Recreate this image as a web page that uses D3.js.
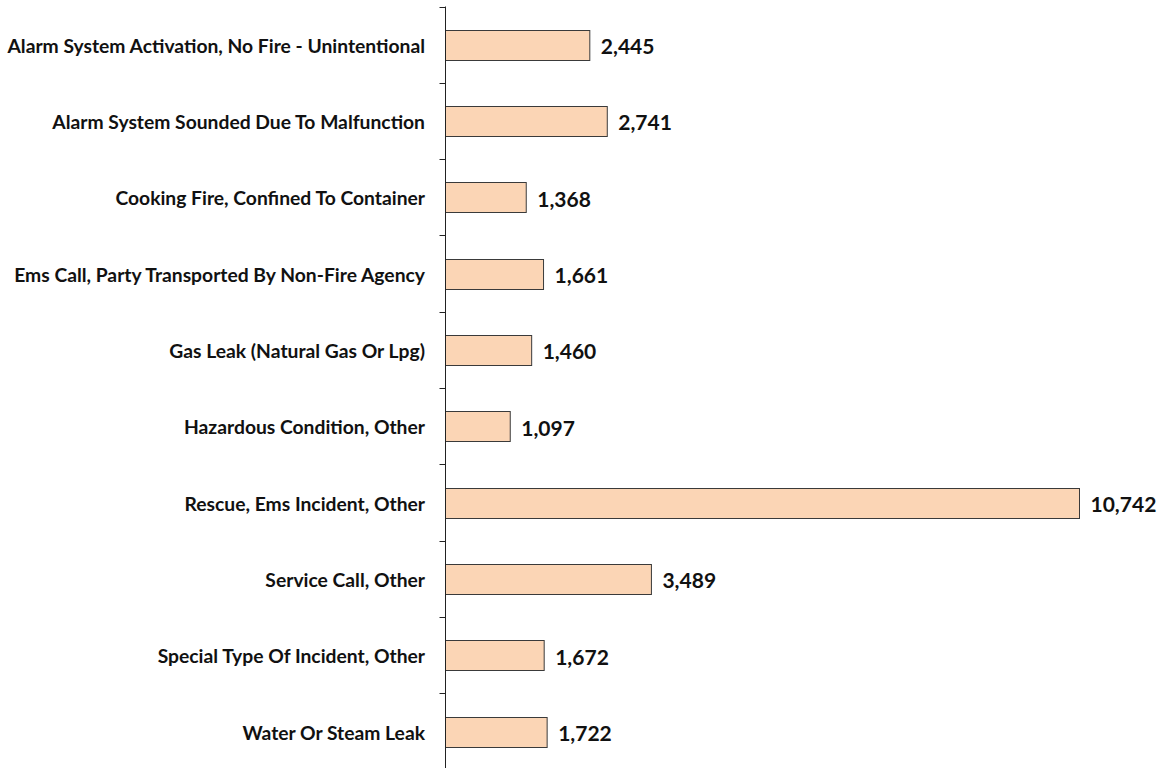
<!DOCTYPE html>
<html>
<head>
<meta charset="utf-8">
<script src="https://cdn.jsdelivr.net/npm/d3@7"></script>
<style>
  body { margin: 0; background: #fff; }
  svg { display: block; }
  .cat { font-family: Lato, "Open Sans", sans-serif; font-weight: bold; font-size: 19.3px; fill: #111; }
  .val { font-family: Lato, "Open Sans", sans-serif; font-weight: bold; font-size: 21px; fill: #111; }
</style>
</head>
<body>
<svg id="chart" width="1162" height="768"></svg>
<script>
"use strict";

// Incident types and their counts, top to bottom
var categories = [
    "Alarm System Activation, No Fire - Unintentional",
    "Alarm System Sounded Due To Malfunction",
    "Cooking Fire, Confined To Container",
    "Ems Call, Party Transported By Non-Fire Agency",
    "Gas Leak (Natural Gas Or Lpg)",
    "Hazardous Condition, Other",
    "Rescue, Ems Incident, Other",
    "Service Call, Other",
    "Special Type Of Incident, Other",
    "Water Or Steam Leak"
];
var counts = [2445, 2741, 1368, 1661, 1460, 1097, 10742, 3489, 1672, 1722];

var svg = d3.select("#chart");

var axis_x = 445.5;

var x = d3.scaleLinear()
    .domain([0, 10742])
    .range([axis_x, 1079.5]);

var y = d3.scaleBand()
    .domain(categories)
    .range([6.5, 769.8])
    .paddingInner(0.61)
    .paddingOuter(0.305);

// Bars
svg.append("g").selectAll("rect")
    .data(categories)
    .join("rect")
    .attr("x", axis_x)
    .attr("y", function(d) { return Math.round(y(d)) + 0.5; })
    .attr("width", function(d, i) { return x(counts[i]) - axis_x; })
    .attr("height", Math.round(y.bandwidth()))
    .attr("fill", "#fbd5b5")
    .attr("stroke", "#3a3a3a")
    .attr("stroke-width", 1);

// Category axis: line plus ticks between categories
var step = y.step();
var tick_ys = d3.range(categories.length + 1).map(function(i) { return 6.5 + i * step; });
svg.append("line")
    .attr("x1", axis_x).attr("x2", axis_x)
    .attr("y1", 6.5).attr("y2", 768)
    .attr("stroke", "#222").attr("stroke-width", 1);
svg.append("g").selectAll("line")
    .data(tick_ys)
    .join("line")
    .attr("x1", axis_x - 6).attr("x2", axis_x)
    .attr("y1", function(d) { return Math.round(d) + 0.5; })
    .attr("y2", function(d) { return Math.round(d) + 0.5; })
    .attr("stroke", "#222").attr("stroke-width", 1);

// Category labels
svg.append("g").selectAll("text")
    .data(categories)
    .join("text")
    .attr("class", "cat")
    .attr("x", 425)
    .attr("y", function(d) { return y(d) + y.bandwidth() / 2 + 0.5; })
    .attr("text-anchor", "end")
    .attr("dominant-baseline", "central")
    .text(function(d) { return d; });

// Value labels
svg.append("g").selectAll("text")
    .data(categories)
    .join("text")
    .attr("class", "val")
    .attr("x", function(d, i) { return x(counts[i]) + 11; })
    .attr("y", function(d) { return y(d) + y.bandwidth() / 2 + 1; })
    .attr("dominant-baseline", "central")
    .text(function(d, i) { return d3.format(",")(counts[i]); });
</script>
</body>
</html>
